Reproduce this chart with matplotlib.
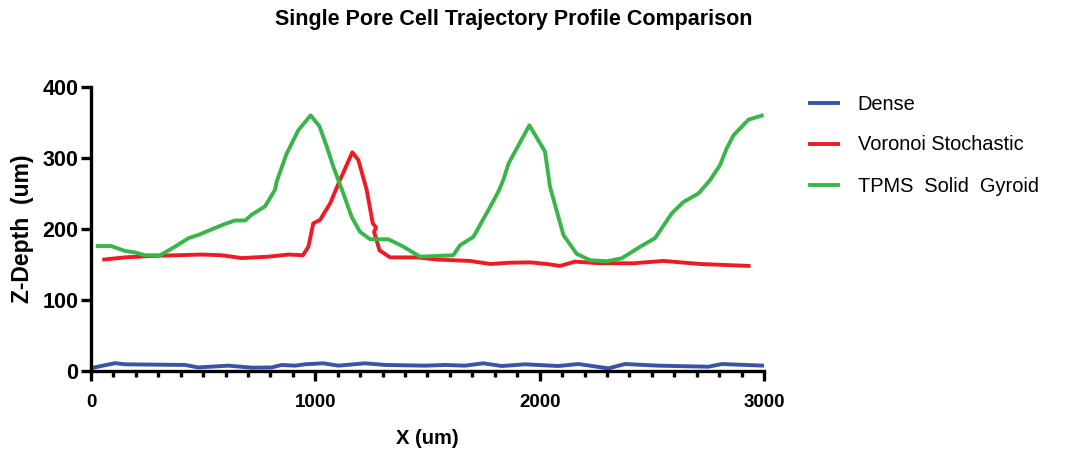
import matplotlib
matplotlib.use("Agg")
import matplotlib.pyplot as plt
from matplotlib.ticker import MultipleLocator

plt.rcParams['font.family'] = ['Liberation Sans', 'DejaVu Sans']

# Dense scaffold trajectory
dense_x = [0, 107, 152, 419, 478, 612, 716, 805, 850, 909, 954, 1036, 1103, 1222,
           1311, 1489, 1578, 1667, 1749, 1831, 1935, 2083, 2173, 2306, 2381, 2529,
           2752, 2812, 2998]
dense_z = [4, 11, 9.4, 8.5, 5, 7.5, 4.7, 5, 8.5, 7.5, 9.4, 10.8, 7.5, 10.8,
           8.5, 7.5, 8.5, 7.5, 10.8, 7, 9.4, 7, 9.8, 3.7, 9.8, 7.5,
           6, 9.8, 7.5]

# Voronoi stochastic scaffold trajectory
voronoi_x = [59, 152, 270, 493, 583, 672, 790, 880, 945, 969, 991, 1021, 1066, 1110,
             1165, 1192, 1229, 1256, 1271, 1262, 1286, 1333, 1452, 1541, 1690, 1779,
             1868, 1957, 2032, 2091, 2158, 2269, 2418, 2552, 2715, 2931]
voronoi_z = [157, 160, 162, 164, 163, 159, 161, 164, 163, 175, 208, 212.7, 236, 269,
             308, 297, 255, 208, 202, 196, 170, 160, 160, 157, 155, 150.7,
             152.5, 153, 150.7, 148, 154, 151.7, 151.7, 155, 150.7, 148]

# TPMS solid gyroid scaffold trajectory
gyroid_x = [30, 89, 152, 196, 241, 308, 374, 434, 486, 538, 597, 642, 687, 716,
            776, 820, 828, 872, 924, 979, 1018, 1051, 1080, 1125, 1162, 1199, 1244,
            1326, 1393, 1467, 1615, 1645, 1705, 1779, 1816, 1838, 1861, 1954, 2024,
            2046, 2106, 2165, 2225, 2299, 2366, 2448, 2514, 2589, 2641, 2708, 2760,
            2804, 2834, 2864, 2931, 2990]
gyroid_z = [176, 176, 169, 167, 163, 163, 175, 187, 192.5, 199.5, 207, 212, 212, 220,
            232, 255, 267, 306, 339, 360, 345, 316, 288, 250, 217, 196, 185.5,
            185.5, 175, 161, 163, 177, 189, 231, 252.5, 269, 292, 346, 309,
            259.6, 191.5, 165, 156, 154.5, 158.7, 175, 187, 222, 238, 250, 269,
            290, 313.6, 332, 354, 359.6]

labels = ['Dense', 'Voronoi Stochastic', 'TPMS  Solid  Gyroid']
colors = ['#3A53A4', '#ED1C24', '#39B54A']

fig = plt.figure(figsize=(10.73, 4.5), dpi=100)
ax = fig.add_axes([0.0848, 0.1756, 0.6272, 0.6311])

lw = 2.8
ax.plot(dense_x, dense_z, color=colors[0], lw=lw, label=labels[0])
ax.plot(voronoi_x, voronoi_z, color=colors[1], lw=lw, label=labels[1])
ax.plot(gyroid_x, gyroid_z, color=colors[2], lw=lw, label=labels[2])

ax.set_xlim(0, 3000)
ax.set_ylim(0, 400)
ax.xaxis.set_major_locator(MultipleLocator(1000))
ax.xaxis.set_minor_locator(MultipleLocator(100))
ax.yaxis.set_major_locator(MultipleLocator(100))

for side in ['top', 'right']:
    ax.spines[side].set_visible(False)
for side in ['left', 'bottom']:
    ax.spines[side].set_linewidth(2.4)

ax.tick_params(axis='both', which='major', direction='out', length=7.5, width=2.4)
ax.tick_params(axis='x', which='major', labelsize=13.5, pad=9)
ax.tick_params(axis='y', which='major', labelsize=15.5, pad=1.5)
ax.tick_params(axis='x', which='minor', direction='out', length=4.5, width=2.4)
for lab in ax.get_xticklabels() + ax.get_yticklabels():
    lab.set_fontweight('bold')

ax.set_xlabel('X (um)', fontsize=14.5, fontweight='bold', labelpad=13)
ax.set_ylabel('Z-Depth  (um)', fontsize=16.5, fontweight='bold', labelpad=6)

fig.suptitle('Single Pore Cell Trajectory Profile Comparison', x=0.479, y=0.98,
             fontsize=15.5, fontweight='bold')

leg = ax.legend(loc='upper left', bbox_to_anchor=(0.7545, 0.79),
                bbox_transform=fig.transFigure, frameon=False, fontsize=14.4,
                handlelength=1.4, handletextpad=1.0, labelspacing=1.1,
                borderpad=0, borderaxespad=0)

fig.savefig('out.png', dpi=100)
